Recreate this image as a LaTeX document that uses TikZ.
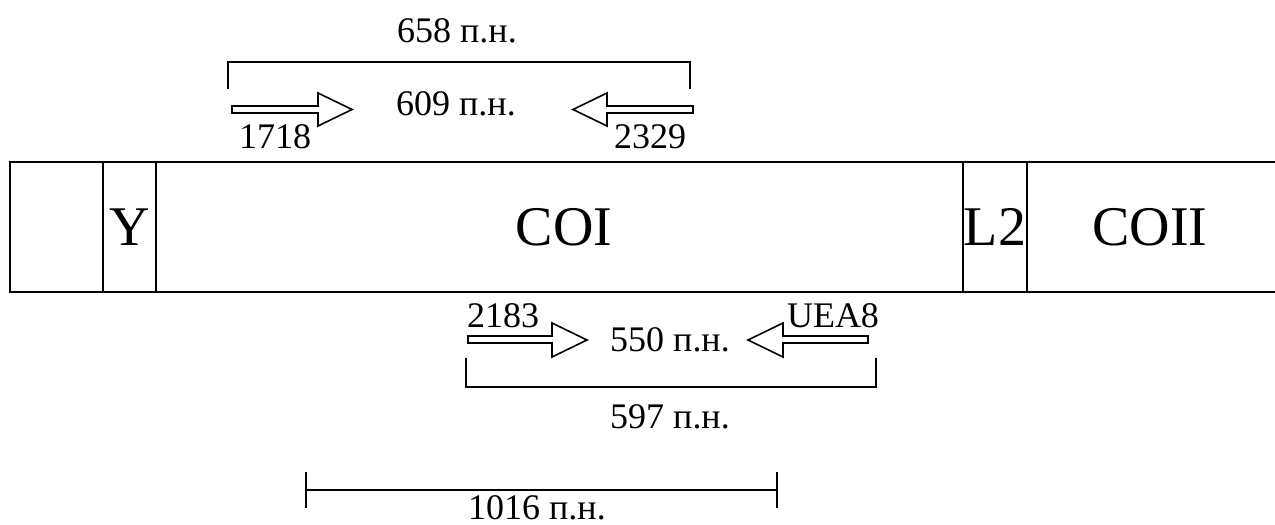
\documentclass[tikz,border=0pt]{standalone}
\usepackage{fontspec}
\setmainfont{Liberation Serif}
\begin{document}
\begin{tikzpicture}[x=1pt,y=-1pt,
  seg/.style={draw=black,line width=1.8pt},
  lbl/.style={inner sep=0pt,font=\fontsize{36}{40}\selectfont},
  big/.style={inner sep=0pt,font=\fontsize{56}{60}\selectfont},
  primer/.style={draw=black,line width=1.6pt,fill=white,line join=miter},
  brk/.style={draw=black,line width=1.8pt}]
\useasboundingbox (0,0) rectangle (1275,525);
% gene strip (runs past the right edge)
\draw[seg] (1290,162) -- (10,162) -- (10,292) -- (1290,292);
\draw[seg] (103,162) rectangle (156,292);
\draw[seg] (963,162) rectangle (1027,292);
\node[big] (y)    at (130,227) {Y};
\node[big] (coi)  at (564,227) {COI};
\node[big] (l2)   at (995,227) {L2};
\node[big] (coii) at (1150,227) {COII};
% upper primer pair and amplicon
\coordinate (ua) at (228,89);
\coordinate (ub) at (690,89);
\draw[brk] (ua) -- (228,62) -- (690,62) -- (ub);
\node[lbl] (t658) at (457,31) {658 п.н.};
\draw[primer] (232,106) -- (318,106) -- (318,93) -- (352,109.5) -- (318,126) -- (318,113) -- (232,113) -- cycle;
\draw[primer] (693,106) -- (607,106) -- (607,93) -- (573,109.5) -- (607,126) -- (607,113) -- (693,113) -- cycle;
\node[lbl] (p1718) at (275,137) {1718};
\node[lbl] (p2329) at (650,137) {2329};
\node[lbl] (t609) at (456,104) {609 п.н.};
% lower primer pair and amplicon
\draw[primer] (468,336) -- (552,336) -- (552,323) -- (587,340) -- (552,357) -- (552,343) -- (468,343) -- cycle;
\draw[primer] (868,336) -- (783,336) -- (783,323) -- (748,340) -- (783,357) -- (783,343) -- (868,343) -- cycle;
\node[lbl] (p2183) at (503,316) {2183};
\node[lbl] (puea) at (833,316) {UEA8};
\node[lbl] (t550) at (670,340) {550 п.н.};
\coordinate (la) at (466,358);
\coordinate (lb) at (876,358);
\draw[brk] (la) -- (466,387) -- (876,387) -- (lb);
\node[lbl] (t597) at (670,417) {597 п.н.};
% scale bar
\coordinate (sa) at (306,490);
\coordinate (sb) at (777,490);
\draw[brk] (sa) -- (sb);
\draw[brk] (306,472) -- (306,508);
\draw[brk] (777,472) -- (777,508);
\node[lbl] (t1016) at (537,508) {1016 п.н.};
\end{tikzpicture}
\end{document}
